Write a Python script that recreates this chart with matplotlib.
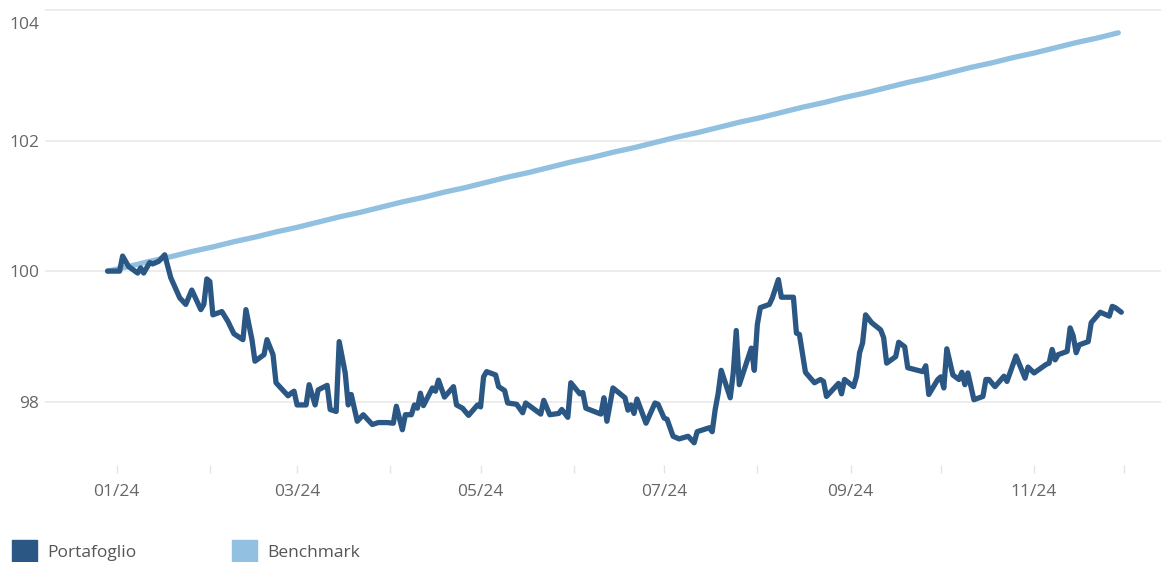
import matplotlib
matplotlib.use("Agg")
import matplotlib.pyplot as plt
import matplotlib.dates as mdates
from matplotlib.patches import Rectangle
from matplotlib.transforms import ScaledTranslation
import pandas as pd

# portfolio values
port_dates = [
    "2023-12-29", "2024-01-02", "2024-01-03", "2024-01-05", "2024-01-08", "2024-01-09",
    "2024-01-10", "2024-01-12", "2024-01-13", "2024-01-15", "2024-01-17", "2024-01-19",
    "2024-01-22", "2024-01-24", "2024-01-26", "2024-01-29", "2024-01-30", "2024-01-31",
    "2024-02-01", "2024-02-02", "2024-02-05", "2024-02-07", "2024-02-09", "2024-02-12",
    "2024-02-13", "2024-02-15", "2024-02-16", "2024-02-19", "2024-02-20", "2024-02-22",
    "2024-02-23", "2024-02-27", "2024-02-28", "2024-02-29", "2024-03-01", "2024-03-04",
    "2024-03-05", "2024-03-07", "2024-03-08", "2024-03-11", "2024-03-12", "2024-03-14",
    "2024-03-15", "2024-03-17", "2024-03-18", "2024-03-19", "2024-03-21", "2024-03-23",
    "2024-03-26", "2024-03-28", "2024-03-31", "2024-04-02", "2024-04-03", "2024-04-05",
    "2024-04-06", "2024-04-08", "2024-04-09", "2024-04-10", "2024-04-11", "2024-04-12",
    "2024-04-15", "2024-04-16", "2024-04-17", "2024-04-19", "2024-04-22", "2024-04-23",
    "2024-04-25", "2024-04-27", "2024-04-30", "2024-05-01", "2024-05-02", "2024-05-03",
    "2024-05-06", "2024-05-07", "2024-05-09", "2024-05-10", "2024-05-13", "2024-05-15",
    "2024-05-16", "2024-05-21", "2024-05-22", "2024-05-24", "2024-05-27", "2024-05-28",
    "2024-05-30", "2024-05-31", "2024-06-03", "2024-06-04", "2024-06-05", "2024-06-10",
    "2024-06-11", "2024-06-12", "2024-06-14", "2024-06-18", "2024-06-19", "2024-06-20",
    "2024-06-21", "2024-06-22", "2024-06-25", "2024-06-28", "2024-06-29", "2024-07-01",
    "2024-07-02", "2024-07-04", "2024-07-06", "2024-07-09", "2024-07-11", "2024-07-12",
    "2024-07-16", "2024-07-17", "2024-07-18", "2024-07-19", "2024-07-20", "2024-07-23",
    "2024-07-24", "2024-07-25", "2024-07-26", "2024-07-30", "2024-07-31", "2024-08-01",
    "2024-08-02", "2024-08-05", "2024-08-06", "2024-08-08", "2024-08-09", "2024-08-13",
    "2024-08-14", "2024-08-15", "2024-08-17", "2024-08-20", "2024-08-22", "2024-08-23",
    "2024-08-24", "2024-08-28", "2024-08-29", "2024-08-30", "2024-09-02", "2024-09-03",
    "2024-09-04", "2024-09-05", "2024-09-06", "2024-09-08", "2024-09-11", "2024-09-12",
    "2024-09-13", "2024-09-16", "2024-09-17", "2024-09-19", "2024-09-20", "2024-09-25",
    "2024-09-26", "2024-09-27", "2024-09-30", "2024-10-01", "2024-10-02", "2024-10-03",
    "2024-10-05", "2024-10-07", "2024-10-08", "2024-10-09", "2024-10-10", "2024-10-12",
    "2024-10-15", "2024-10-16", "2024-10-17", "2024-10-19", "2024-10-22", "2024-10-23",
    "2024-10-26", "2024-10-29", "2024-10-30", "2024-11-01", "2024-11-05", "2024-11-06",
    "2024-11-07", "2024-11-08", "2024-11-09", "2024-11-12", "2024-11-13", "2024-11-14",
    "2024-11-15", "2024-11-16", "2024-11-19", "2024-11-20", "2024-11-23", "2024-11-26",
    "2024-11-27", "2024-11-28", "2024-11-30",
]
port_values = [
    100.00, 100.00, 100.23, 100.07, 99.97, 100.05,
    99.97, 100.13, 100.11, 100.15, 100.25, 99.90,
    99.59, 99.49, 99.71, 99.41, 99.49, 99.88,
    99.84, 99.33, 99.38, 99.23, 99.04, 98.95,
    99.41, 98.95, 98.62, 98.72, 98.95, 98.72,
    98.29, 98.09, 98.13, 98.16, 97.95, 97.95,
    98.26, 97.95, 98.18, 98.25, 97.88, 97.85,
    98.92, 98.44, 97.95, 98.11, 97.70, 97.80,
    97.65, 97.68, 97.68, 97.67, 97.93, 97.57,
    97.80, 97.80, 97.95, 97.90, 98.13, 97.94,
    98.21, 98.16, 98.33, 98.07, 98.23, 97.95,
    97.90, 97.79, 97.95, 97.92, 98.38, 98.46,
    98.41, 98.23, 98.17, 97.98, 97.96, 97.83,
    97.98, 97.81, 98.02, 97.80, 97.82, 97.88,
    97.76, 98.29, 98.12, 98.14, 97.90, 97.81,
    98.06, 97.70, 98.21, 98.06, 97.87, 97.95,
    97.82, 98.04, 97.67, 97.98, 97.96, 97.75,
    97.73, 97.47, 97.43, 97.47, 97.37, 97.54,
    97.60, 97.54, 97.88, 98.13, 98.48, 98.06,
    98.44, 99.09, 98.26, 98.82, 98.48, 99.18,
    99.44, 99.49, 99.59, 99.87, 99.60, 99.60,
    99.05, 99.03, 98.45, 98.29, 98.34, 98.31,
    98.08, 98.28, 98.12, 98.34, 98.23, 98.39,
    98.75, 98.90, 99.33, 99.21, 99.10, 98.98,
    98.59, 98.69, 98.91, 98.84, 98.52, 98.46,
    98.55, 98.11, 98.34, 98.38, 98.21, 98.81,
    98.41, 98.34, 98.45, 98.26, 98.44, 98.03,
    98.08, 98.34, 98.34, 98.23, 98.39, 98.31,
    98.70, 98.36, 98.53, 98.44, 98.57, 98.59,
    98.80, 98.64, 98.72, 98.77, 99.13, 99.01,
    98.75, 98.87, 98.92, 99.21, 99.37, 99.31,
    99.46, 99.44, 99.37,
]

# benchmark, one reading per week starting 29/12/2023
bench_start = "2023-12-29"
bench_values = [
    100.00, 100.07, 100.15, 100.22, 100.30, 100.37, 100.45, 100.52, 100.60, 100.67,
    100.75, 100.83, 100.90, 100.98, 101.06, 101.13, 101.21, 101.28, 101.36, 101.44,
    101.51, 101.59, 101.67, 101.74, 101.82, 101.89, 101.97, 102.05, 102.12, 102.20,
    102.28, 102.35, 102.43, 102.51, 102.58, 102.66, 102.73, 102.81, 102.89, 102.96,
    103.04, 103.12, 103.19, 103.27, 103.34, 103.42, 103.50, 103.57, 103.65,
]

series_names = ["Portafoglio", "Benchmark"]
series_colors = ["#2b5784", "#91c0e0"]
y_ticks = [98, 100, 102, 104]

plt.rcParams['font.family'] = ['Open Sans', 'DejaVu Sans']

W, H = 1161, 562
fig = plt.figure(figsize=(W / 100, H / 100), dpi=100)
ax = fig.add_axes([45 / W, 1 - 465 / H, 1 - 45 / W, (465 - 8) / H])

port_x = pd.to_datetime(port_dates)
bench_x = pd.date_range(bench_start, periods=len(bench_values), freq="7D")

ax.plot(bench_x, bench_values, color=series_colors[1], lw=3.8,
        solid_capstyle='round', solid_joinstyle='round', zorder=2)
ax.plot(port_x, port_values, color=series_colors[0], lw=3.8,
        solid_capstyle='round', solid_joinstyle='round', zorder=3)

ref = pd.Timestamp("2024-01-01")
ax.set_xlim(ref - pd.Timedelta(days=23.8), ref + pd.Timedelta(days=347.2))
ax.set_ylim(97.03, 104.03)

for s in ax.spines.values():
    s.set_visible(False)

ax.set_yticks(y_ticks)
ax.yaxis.grid(True, color='#ececec', lw=1.3)
ax.set_axisbelow(True)
ax.tick_params(axis='y', length=0, pad=4, labelsize=12.5, labelcolor='#666666')

ax.xaxis.set_major_locator(mdates.MonthLocator(bymonth=[1, 3, 5, 7, 9, 11]))
ax.xaxis.set_minor_locator(mdates.MonthLocator(bymonth=[2, 4, 6, 8, 10, 12]))
ax.xaxis.set_major_formatter(mdates.DateFormatter('%m/%y'))
ax.tick_params(axis='x', which='both', length=6, width=1, color='#e4e4e4')
ax.tick_params(axis='x', which='major', pad=8, labelsize=12.5, labelcolor='#666666')

# top label sits under its gridline like in the original
top_lab = ax.get_yticklabels()[-1]
top_lab.set_transform(top_lab.get_transform() + ScaledTranslation(0, -0.13, fig.dpi_scale_trans))

# legend drawn by hand at the bottom
for i, (name, col) in enumerate(zip(series_names, series_colors)):
    x0 = [12, 232][i]
    fig.patches.append(Rectangle((x0 / W, 1 - 565 / H), 25 / W, 25 / H,
                                 transform=fig.transFigure, color=col, clip_on=False))
    fig.text((x0 + 35) / W, 1 - 557 / H, name, fontsize=12.5, color='#555555', va='baseline')

fig.savefig("out.png", dpi=100)
